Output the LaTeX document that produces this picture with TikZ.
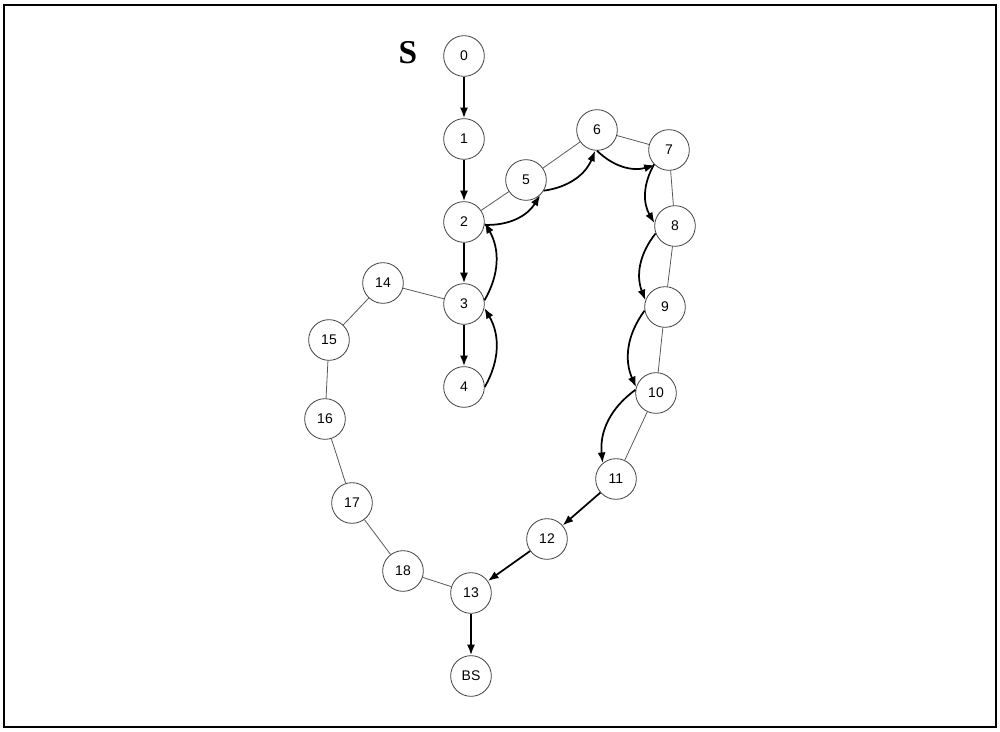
\documentclass[tikz,border=0pt]{standalone}
\usepackage{fontspec}
\setmainfont{Liberation Sans}
\newfontfamily\serifS{Liberation Serif}
\usetikzlibrary{arrows.meta}
\begin{document}
\begin{tikzpicture}[x=0.75pt,y=-0.75pt,
  nd/.style={circle,draw=black!75,line width=0.6pt,fill=white,minimum size=30.5pt,inner sep=0pt,font=\fontsize{10.5}{11}\selectfont},
  thin/.style={draw=black!65,line width=0.6pt},
  arr/.style={draw=black,line width=1.3pt,-{Latex[length=8pt,width=6pt]}},
  carr/.style={arr,bend right=30}]
\useasboundingbox (0,0) rectangle (1000,732);
\draw[line width=1.6pt] (4,5) rectangle (996,727);
\node[font=\serifS\bfseries\fontsize{25}{26}\selectfont] (S) at (408,53) {S};
\node[nd] (n0) at (464,56) {0};
\node[nd] (n1) at (464,139) {1};
\node[nd] (n2) at (464,222) {2};
\node[nd] (n3) at (464,304) {3};
\node[nd] (n4) at (464,387) {4};
\node[nd] (n5) at (526,180) {5};
\node[nd] (n6) at (597,130) {6};
\node[nd] (n7) at (669,150) {7};
\node[nd] (n8) at (675,226) {8};
\node[nd] (n9) at (665,307) {9};
\node[nd] (n10) at (656,393) {10};
\node[nd] (n11) at (616,479) {11};
\node[nd] (n12) at (547,539) {12};
\node[nd] (n13) at (471,593) {13};
\node[nd] (bs) at (471,676) {BS};
\node[nd] (n14) at (383,283) {14};
\node[nd] (n15) at (329,340) {15};
\node[nd] (n16) at (325,419) {16};
\node[nd] (n17) at (352,503) {17};
\node[nd] (n18) at (403,571) {18};
% thin edges
\draw[thin] (n2) -- (n5);
\draw[thin] (n5) -- (n6);
\draw[thin] (n6) -- (n7);
\draw[thin] (n7) -- (n8);
\draw[thin] (n8) -- (n9);
\draw[thin] (n9) -- (n10);
\draw[thin] (n10) -- (n11);
\draw[thin] (n3) -- (n14);
\draw[thin] (n14) -- (n15);
\draw[thin] (n15) -- (n16);
\draw[thin] (n16) -- (n17);
\draw[thin] (n17) -- (n18);
\draw[thin] (n18) -- (n13);
% straight arrows
\draw[arr] (n0) -- (n1);
\draw[arr] (n1) -- (n2);
\draw[arr] (n2) -- (n3);
\draw[arr] (n3) -- (n4);
\draw[arr] (n11) -- (n12);
\draw[arr] (n12) -- (n13);
\draw[arr] (n13) -- (bs);
% curved arrows
\draw[carr] (n2.-8) to (n5.-47);
\draw[carr] (n5.-31) to (n6.-95);
\draw[carr] (n6.-90) to (n7.227);
\draw[carr] (n7.224) to (n8.172);
\draw[carr] (n8.201) to (n9.161);
\draw[carr] (n9.190) to (n10.164);
\draw[carr] (n10.171) to (n11.130);
\draw[carr] (n4.0) to (n3.-11);
\draw[carr] (n3.10) to (n2.-2);
\end{tikzpicture}
\end{document}
